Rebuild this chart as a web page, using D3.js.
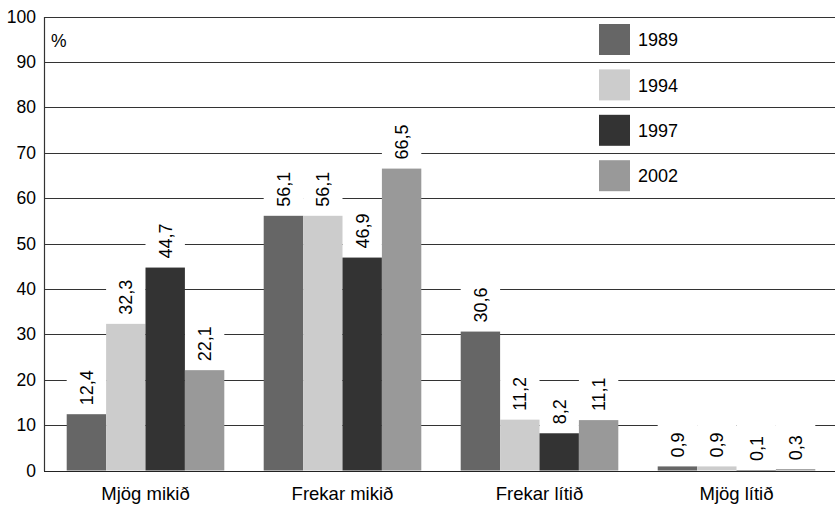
<!DOCTYPE html>
<html><head><meta charset="utf-8">
<script src="https://cdn.jsdelivr.net/npm/d3@7"></script>
<style>
body{margin:0;background:#fff;}
text{font-family:"Liberation Sans",Arial,sans-serif;fill:#000;}
</style></head>
<body><svg id="c" width="835" height="507"></svg>
<script>
const categories = ["Mjög mikið", "Frekar mikið", "Frekar lítið", "Mjög lítið"];
const years = ["1989", "1994", "1997", "2002"];
const v1989 = [12.4, 56.1, 30.6, 0.9];
const v1994 = [32.3, 56.1, 11.2, 0.9];
const v1997 = [44.7, 46.9, 8.2, 0.1];
const v2002 = [22.1, 66.5, 11.1, 0.3];
const yTicks = [0, 10, 20, 30, 40, 50, 60, 70, 80, 90, 100];
const colors = ["#666666", "#cccccc", "#333333", "#999999"];
const series = [v1989, v1994, v1997, v2002];

(function () {
const svg = d3.select("#c");
const pl = 44, pr = 835, pt = 16.5, pb = 470.5;
const y = d3.scaleLinear().domain([0, 100]).range([pb, pt]);
const x0 = d3.scaleBand().domain(categories).range([47, 835]).paddingInner(0.2).paddingOuter(0.1);
const x1 = d3.scaleBand().domain(years).range([0, x0.bandwidth()]);

svg.append("g").selectAll("line").data(yTicks).join("line")
  .attr("x1", pl).attr("x2", pr)
  .attr("y1", d => Math.round(y(d)) + 0.5).attr("y2", d => Math.round(y(d)) + 0.5)
  .attr("stroke", "#333").attr("stroke-width", 1.2);

const ax = svg.append("g").attr("transform", `translate(${pl},0)`)
  .call(d3.axisLeft(y).tickValues(yTicks).tickSize(0).tickPadding(8));
ax.select(".domain").attr("stroke", "#333").attr("stroke-width", 1.2);
ax.selectAll("text").style("font-size", "17.5px").style("font-family", "Liberation Sans, Arial, sans-serif").attr("fill", "#000");

const data = [];
categories.forEach((c, i) => years.forEach((yr, j) => data.push({c, yr, j, v: series[j][i]})));

svg.append("g").selectAll("rect").data(data).join("rect")
  .attr("x", d => x0(d.c) + x1(d.yr))
  .attr("width", x1.bandwidth())
  .attr("y", d => y(d.v) - 47)
  .attr("height", 47)
  .attr("fill", "#fff");

svg.append("g").selectAll("rect").data(data).join("rect")
  .attr("x", d => x0(d.c) + x1(d.yr))
  .attr("width", x1.bandwidth())
  .attr("y", d => y(d.v))
  .attr("height", d => y(0) - y(d.v))
  .attr("fill", d => colors[d.j]);

svg.append("line").attr("x1", pl).attr("x2", pr)
  .attr("y1", Math.round(y(0)) + 0.5).attr("y2", Math.round(y(0)) + 0.5)
  .attr("stroke", "#222").attr("stroke-width", 1.2);

svg.append("g").selectAll("text").data(data).join("text")
  .attr("transform", d => `translate(${x0(d.c) + x1(d.yr) + x1.bandwidth() / 2},${y(d.v) - 9}) rotate(-90)`)
  .attr("dy", "0.35em")
  .style("font-size", "18px")
  .text(d => d3.format(".1f")(d.v).replace(".", ","));

svg.append("g").selectAll("text").data(categories).join("text")
  .attr("x", d => x0(d) + x0.bandwidth() / 2)
  .attr("y", 500)
  .attr("text-anchor", "middle")
  .style("font-size", "18.5px")
  .text(d => d);

svg.append("text").attr("x", 51).attr("y", 47).style("font-size", "17.5px").text("%");

const lg = svg.append("g").selectAll("g").data(years).join("g")
  .attr("transform", (d, i) => `translate(599,${24 + i * 45.4})`);
lg.append("rect").attr("width", 31).attr("height", 31).attr("fill", (d, i) => colors[i]);
lg.append("text").attr("x", 39).attr("y", 16).attr("dy", "0.35em").style("font-size", "18px").text(d => d);
})();
</script></body></html>
